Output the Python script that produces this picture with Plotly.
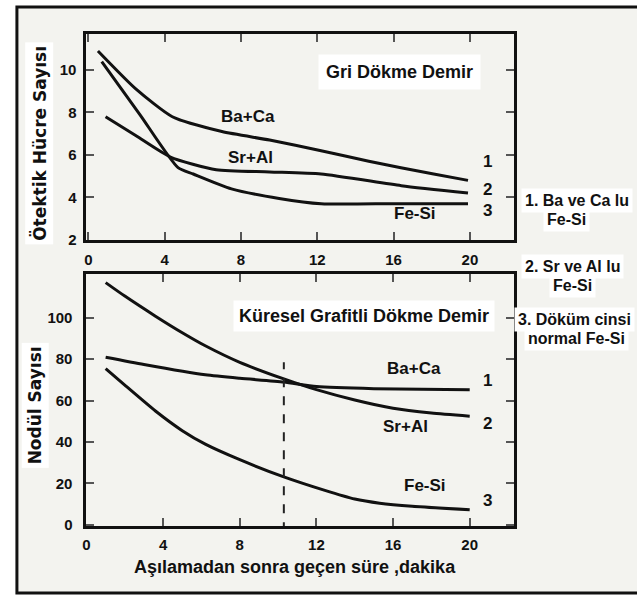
import plotly.graph_objects as go

W, H = 637, 605

# ---------------- data ----------------
# Top panel: Gri Dökme Demir (ötektik hücre sayısı)
top_baca_x = [0.5, 2.5, 4.4, 7.0, 9.5, 12.2, 14.7, 18.1, 19.9]
top_baca_y = [10.9, 9.1, 7.8, 7.1, 6.7, 6.2, 5.7, 5.1, 4.8]
top_sral_x = [0.9, 2.5, 4.3, 6.7, 9.5, 12.2, 16.4, 19.9]
top_sral_y = [7.8, 6.9, 5.9, 5.3, 5.2, 5.1, 4.55, 4.2]
top_fesi_x = [0.7, 2.7, 4.7, 5.5, 7.5, 10.0, 12.2, 16.0, 19.9]
top_fesi_y = [10.4, 7.9, 5.4, 5.1, 4.4, 3.95, 3.7, 3.7, 3.7]

# Bottom panel: Küresel Grafitli Dökme Demir (nodül sayısı)
bot_sral_x = [1.0, 2.0, 3.6, 5.0, 6.2, 8.0, 10.3, 12.0, 14.0, 16.0, 18.0, 20.0]
bot_sral_y = [117, 110.5, 100.8, 92.8, 86.5, 78.5, 70.5, 65.3, 60.3, 56.3, 54, 52.5]
bot_baca_x = [1.0, 3.0, 6.2, 8.0, 10.3, 12.0, 15.0, 20.0]
bot_baca_y = [81, 77.5, 72.5, 70.8, 69, 66.8, 65.8, 65.3]
bot_fesi_x = [1.0, 2.0, 3.6, 5.0, 6.2, 8.0, 10.3, 12.4, 14.0, 15.3, 17.0, 20.0]
bot_fesi_y = [75.5, 67.5, 55, 45.5, 39, 31.5, 23.2, 16.8, 12.5, 10.5, 9, 7.3]

dash_x = [10.3, 10.3]
dash_y = [-3, 78.5]

x_ticks = [0, 4, 8, 12, 16, 20]
top_y_ticks = [2, 4, 6, 8, 10]
bot_y_ticks = [0, 20, 40, 60, 80, 100]

FONT = "Liberation Sans, Arial, sans-serif"
WIDE = "DejaVu Sans, Verdana, sans-serif"

def px(x, y):
    return x / W, 1 - y / H

fig = go.Figure()
line = dict(color="#111111", width=3, shape="spline", smoothing=0.6)
for xs, ys in [(top_baca_x, top_baca_y), (top_sral_x, top_sral_y), (top_fesi_x, top_fesi_y)]:
    fig.add_trace(go.Scatter(x=xs, y=ys, mode="lines", line=line, xaxis="x", yaxis="y", showlegend=False))
for xs, ys in [(bot_sral_x, bot_sral_y), (bot_baca_x, bot_baca_y), (bot_fesi_x, bot_fesi_y)]:
    fig.add_trace(go.Scatter(x=xs, y=ys, mode="lines", line=line, xaxis="x2", yaxis="y2", showlegend=False))
fig.add_trace(go.Scatter(x=dash_x, y=dash_y, mode="lines", line=dict(color="#222222", width=2, dash="dash"),
                         xaxis="x2", yaxis="y2", showlegend=False))

xd = [83 / W, 513 / W]
axis_common = dict(showline=True, linecolor="#111111", linewidth=3, mirror="ticks",
                   ticks="inside", ticklen=8, tickwidth=1.5, tickcolor="#555555",
                   showgrid=False, zeroline=False,
                   tickfont=dict(family=FONT, size=15, color="#111111", weight="bold"))

fig.update_layout(
    width=W, height=H,
    margin=dict(l=0, r=0, t=0, b=0),
    paper_bgcolor="white",
    plot_bgcolor="#f3f3ef",
    xaxis=dict(domain=xd, range=[-0.1, 22.3], tickvals=x_ticks, anchor="y", ticklabelstandoff=4, **axis_common),
    yaxis=dict(domain=[1 - 243 / H, 1 - 34 / H], range=[2, 11.72], tickvals=top_y_ticks, anchor="x",
               ticklabelstandoff=4, **axis_common),
    xaxis2=dict(domain=xd, range=[0.0, 22.3], tickvals=x_ticks, anchor="y2", ticklabelstandoff=3, **axis_common),
    yaxis2=dict(domain=[1 - 533 / H, 1 - 278 / H], range=[-0.5, 121], tickvals=bot_y_ticks, anchor="x2",
                ticklabelstandoff=8, **axis_common),
)

# outer frame with light background
x0, y1 = px(13, 7)
x1, y0 = px(660, 601)
fig.add_shape(type="rect", xref="paper", yref="paper", x0=x0, y0=y0, x1=x1, y1=y1,
              line=dict(color="#111111", width=3), fillcolor="#f3f3ef", layer="below")

annots = []
def txt(t, x, y, size=18, family=FONT, anchor="center", bg=None, angle=0, pad=3):
    ax, ay = px(x, y)
    d = dict(text=t, x=ax, y=ay, xref="paper", yref="paper", showarrow=False,
             xanchor=anchor, yanchor="middle", textangle=angle,
             font=dict(family=family, size=size, color="#111111", weight="bold"))
    if bg:
        d.update(bgcolor=bg, borderpad=pad)
    annots.append(d)

# panel titles
txt("Gri Dökme Demir", 398, 73, size=18, bg="white", pad=7)
txt("Küresel Grafitli Dökme Demir", 362, 320, size=18, bg="white", pad=5)
# curve labels top
txt("Ba+Ca", 246, 118, size=17)
txt("Sr+Al", 248, 160, size=17)
txt("Fe-Si", 414, 216, size=17)
txt("1", 487, 164, size=17)
txt("2", 487, 192, size=17)
txt("3", 487, 213, size=17)
# curve labels bottom
txt("Ba+Ca", 413, 373, size=17)
txt("Sr+Al", 404, 432, size=17)
txt("Fe-Si", 424, 492, size=17)
txt("1", 487, 386, size=17)
txt("2", 487, 429, size=17)
txt("3", 487, 507, size=17)
# axis titles
txt("Ötektik Hücre Sayısı", 35, 145, size=17, family=WIDE, bg="white", angle=-90)
txt("Nodül Sayısı", 31, 411, size=17, family=WIDE, bg="white", angle=-90)
txt("Aşılamadan sonra geçen süre ,dakika", 293, 575, size=18)
# right-side notes
txt("1. Ba ve Ca lu", 520, 203, size=16, anchor="left", bg="white")
txt("Fe-Si", 542, 222, size=16, anchor="left", bg="white")
txt("2. Sr ve Al lu", 520, 270, size=16, anchor="left", bg="white")
txt("Fe-Si", 548, 289, size=16, anchor="left", bg="white")
txt("3. Döküm cinsi", 513, 324, size=16, anchor="left", bg="white")
txt("normal Fe-Si", 523, 343, size=16, anchor="left", bg="white")

fig.update_layout(annotations=annots)
fig.write_html("out.html", config={"displayModeBar": False},
               post_script="document.body.style.margin='0';")
